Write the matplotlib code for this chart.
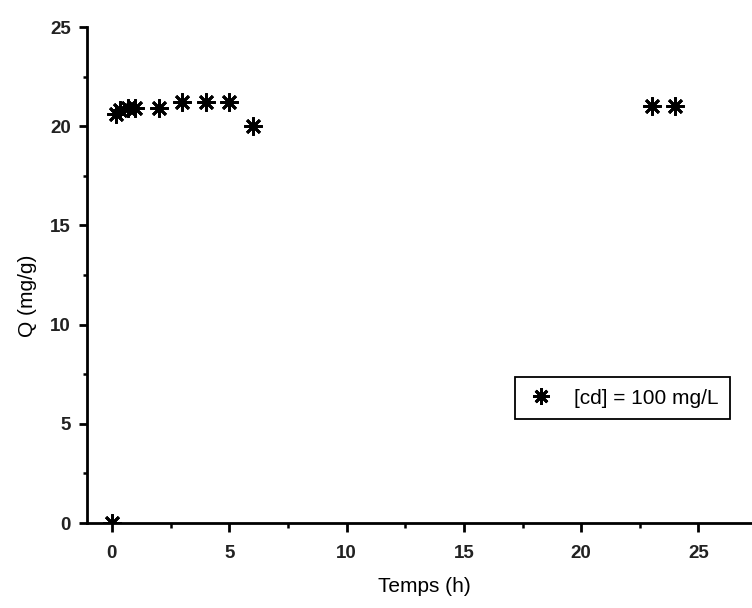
import numpy as np
import matplotlib
matplotlib.use("Agg")
import matplotlib.pyplot as plt
from matplotlib.ticker import MultipleLocator

plt.rcParams['font.family'] = ['Liberation Sans', 'DejaVu Sans']

# Cd adsorption kinetics, [Cd] = 100 mg/L
temps_h = [0, 0.17, 0.33, 0.67, 1, 2, 3, 4, 5, 6, 23, 24]
q_mg_g = [0.0, 20.6, 20.8, 20.9, 20.9, 20.9, 21.2, 21.2, 21.2, 20.0, 21.0, 21.0]
serie_label = "[cd] = 100 mg/L"

fig = plt.figure(figsize=(7.52, 6.08), dpi=100)
ax = fig.add_axes([87 / 752, 85 / 608, 665 / 752, 496 / 608])

# asterisk marker: 8 spokes
ax.plot(temps_h, q_mg_g, linestyle='none', marker=(8, 2, 0), markersize=13,
        markeredgewidth=2.0, color='black', label=serie_label)

ax.set_xlim(-1.06, 27.28)
ax.set_ylim(0, 25)

ax.spines['top'].set_visible(False)
ax.spines['right'].set_visible(False)
for side in ['left', 'bottom']:
    ax.spines[side].set_linewidth(2.0)

ax.xaxis.set_major_locator(MultipleLocator(5))
ax.xaxis.set_minor_locator(MultipleLocator(2.5))
ax.yaxis.set_major_locator(MultipleLocator(5))
ax.yaxis.set_minor_locator(MultipleLocator(2.5))
ax.tick_params(which='major', direction='out', width=2.0, labelsize=13.5)
ax.tick_params(which='minor', direction='out', width=1.8)
ax.tick_params(axis='x', which='major', length=6.5, pad=9)
ax.tick_params(axis='x', which='minor', length=3.5)
ax.tick_params(axis='y', which='major', length=5.5, pad=6)
ax.tick_params(axis='y', which='minor', length=3)
for lab in ax.get_xticklabels() + ax.get_yticklabels():
    lab.set_fontweight('bold')
    lab.set_color('#222222')

ax.set_xlabel('Temps (h)', fontsize=15)
ax.set_ylabel('Q (mg/g)', fontsize=15)
ax.xaxis.set_label_coords(0.507, -0.108)
ax.yaxis.set_label_coords(-0.075, 0.458)

leg = ax.legend(loc='upper left', bbox_to_anchor=(0.6436, 0.294),
                borderaxespad=0, fancybox=False, framealpha=1,
                edgecolor='black', fontsize=15, handlelength=1.4,
                handletextpad=0.9, borderpad=0.55, markerscale=0.9)
leg.get_frame().set_linewidth(1.3)

fig.savefig('out.png', dpi=100)
